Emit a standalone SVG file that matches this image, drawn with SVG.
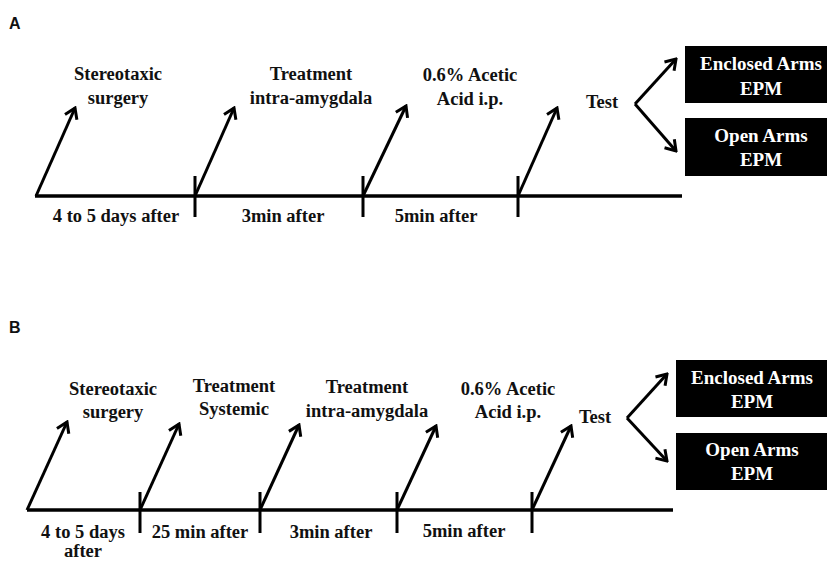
<svg xmlns="http://www.w3.org/2000/svg" width="827" height="561" viewBox="0 0 827 561">
<style>
text{font-family:'Liberation Serif','Times New Roman','DejaVu Serif',serif}
.t{font-weight:700;font-size:18.5px;fill:#111;text-anchor:middle}
.w{font-weight:700;font-size:19px;fill:#fff;text-anchor:middle}
.p{font-family:'Liberation Sans',Arial,sans-serif;font-weight:700;font-size:16px;fill:#111}
.ln{stroke:#000;stroke-width:3.5;fill:none}
.tk{stroke:#000;stroke-width:3;fill:none}
.ar{stroke:#000;stroke-width:3;fill:none;marker-end:url(#ah)}
.box{fill:#000}
</style>
<defs>
<marker id="ah" viewBox="-14 -9 16 18" refX="0" refY="0" markerWidth="16" markerHeight="18" orient="auto" markerUnits="userSpaceOnUse">
<path d="M-10,-6.5 L0,0 L-10,6.5" fill="none" stroke="#000" stroke-width="3" stroke-linejoin="miter"/>
</marker>
</defs>
<rect width="827" height="561" fill="#fff"/>

<g id="panelA-label"><text class="p" x="9" y="29">A</text></g>
<g id="panelB-label"><text class="p" x="9" y="333">B</text></g>

<g id="connectors">
<path class="ln" d="M35,196 H682"/>
<path class="tk" d="M195,176 V217 M363,176 V217 M518,176 V217"/>
<path class="ar" d="M36,196 L75,108"/>
<path class="ar" d="M195,196 L234,108"/>
<path class="ar" d="M363,196 L406,106"/>
<path class="ar" d="M518,196 L557,108"/>
<path class="ar" d="M635,104 L676,59"/>
<path class="ar" d="M635,104 L676,151"/>
<path class="ln" d="M27,510 H673"/>
<path class="tk" d="M140,492 V533 M260,492 V533 M397,492 V533 M532,492 V533"/>
<path class="ar" d="M27,510 L67,422"/>
<path class="ar" d="M140,510 L179,424"/>
<path class="ar" d="M260,510 L299,425"/>
<path class="ar" d="M397,510 L436,426"/>
<path class="ar" d="M532,510 L571,426"/>
<path class="ar" d="M627,418 L667,374"/>
<path class="ar" d="M627,418 L667,461"/>
</g>

<g id="a-surgery"><text class="t" x="118" y="80">Stereotaxic</text><text class="t" x="118" y="104">surgery</text></g>
<g id="a-treatment"><text class="t" x="311" y="80">Treatment</text><text class="t" x="311" y="104">intra-amygdala</text></g>
<g id="a-acetic"><text class="t" x="470" y="81">0.6% Acetic</text><text class="t" x="470" y="105">Acid i.p.</text></g>
<g id="a-test"><text class="t" x="602" y="108">Test</text></g>
<g id="a-int1"><text class="t" x="116" y="222">4 to 5 days after</text></g>
<g id="a-int2"><text class="t" x="283" y="222">3min after</text></g>
<g id="a-int3"><text class="t" x="436" y="222">5min after</text></g>
<g id="a-enclosed"><rect class="box" x="685" y="46" width="142" height="57"/><text class="w" x="761" y="70">Enclosed Arms</text><text class="w" x="761" y="95">EPM</text></g>
<g id="a-open"><rect class="box" x="685" y="118" width="142" height="58"/><text class="w" x="761" y="142">Open Arms</text><text class="w" x="761" y="166">EPM</text></g>

<g id="b-surgery"><text class="t" x="113" y="395">Stereotaxic</text><text class="t" x="113" y="418">surgery</text></g>
<g id="b-systemic"><text class="t" x="234" y="392">Treatment</text><text class="t" x="234" y="415">Systemic</text></g>
<g id="b-treatment"><text class="t" x="367" y="393">Treatment</text><text class="t" x="367" y="417">intra-amygdala</text></g>
<g id="b-acetic"><text class="t" x="508" y="395">0.6% Acetic</text><text class="t" x="508" y="418">Acid i.p.</text></g>
<g id="b-test"><text class="t" x="595" y="423">Test</text></g>
<g id="b-int1"><text class="t" x="83" y="538">4 to 5 days</text><text class="t" x="83" y="557">after</text></g>
<g id="b-int2"><text class="t" x="200" y="538">25 min after</text></g>
<g id="b-int3"><text class="t" x="331" y="538">3min after</text></g>
<g id="b-int4"><text class="t" x="464" y="537">5min after</text></g>
<g id="b-enclosed"><rect class="box" x="676" y="360" width="151" height="57"/><text class="w" x="752" y="384">Enclosed Arms</text><text class="w" x="752" y="408">EPM</text></g>
<g id="b-open"><rect class="box" x="676" y="433" width="151" height="57"/><text class="w" x="752" y="456">Open Arms</text><text class="w" x="752" y="480">EPM</text></g>
</svg>
